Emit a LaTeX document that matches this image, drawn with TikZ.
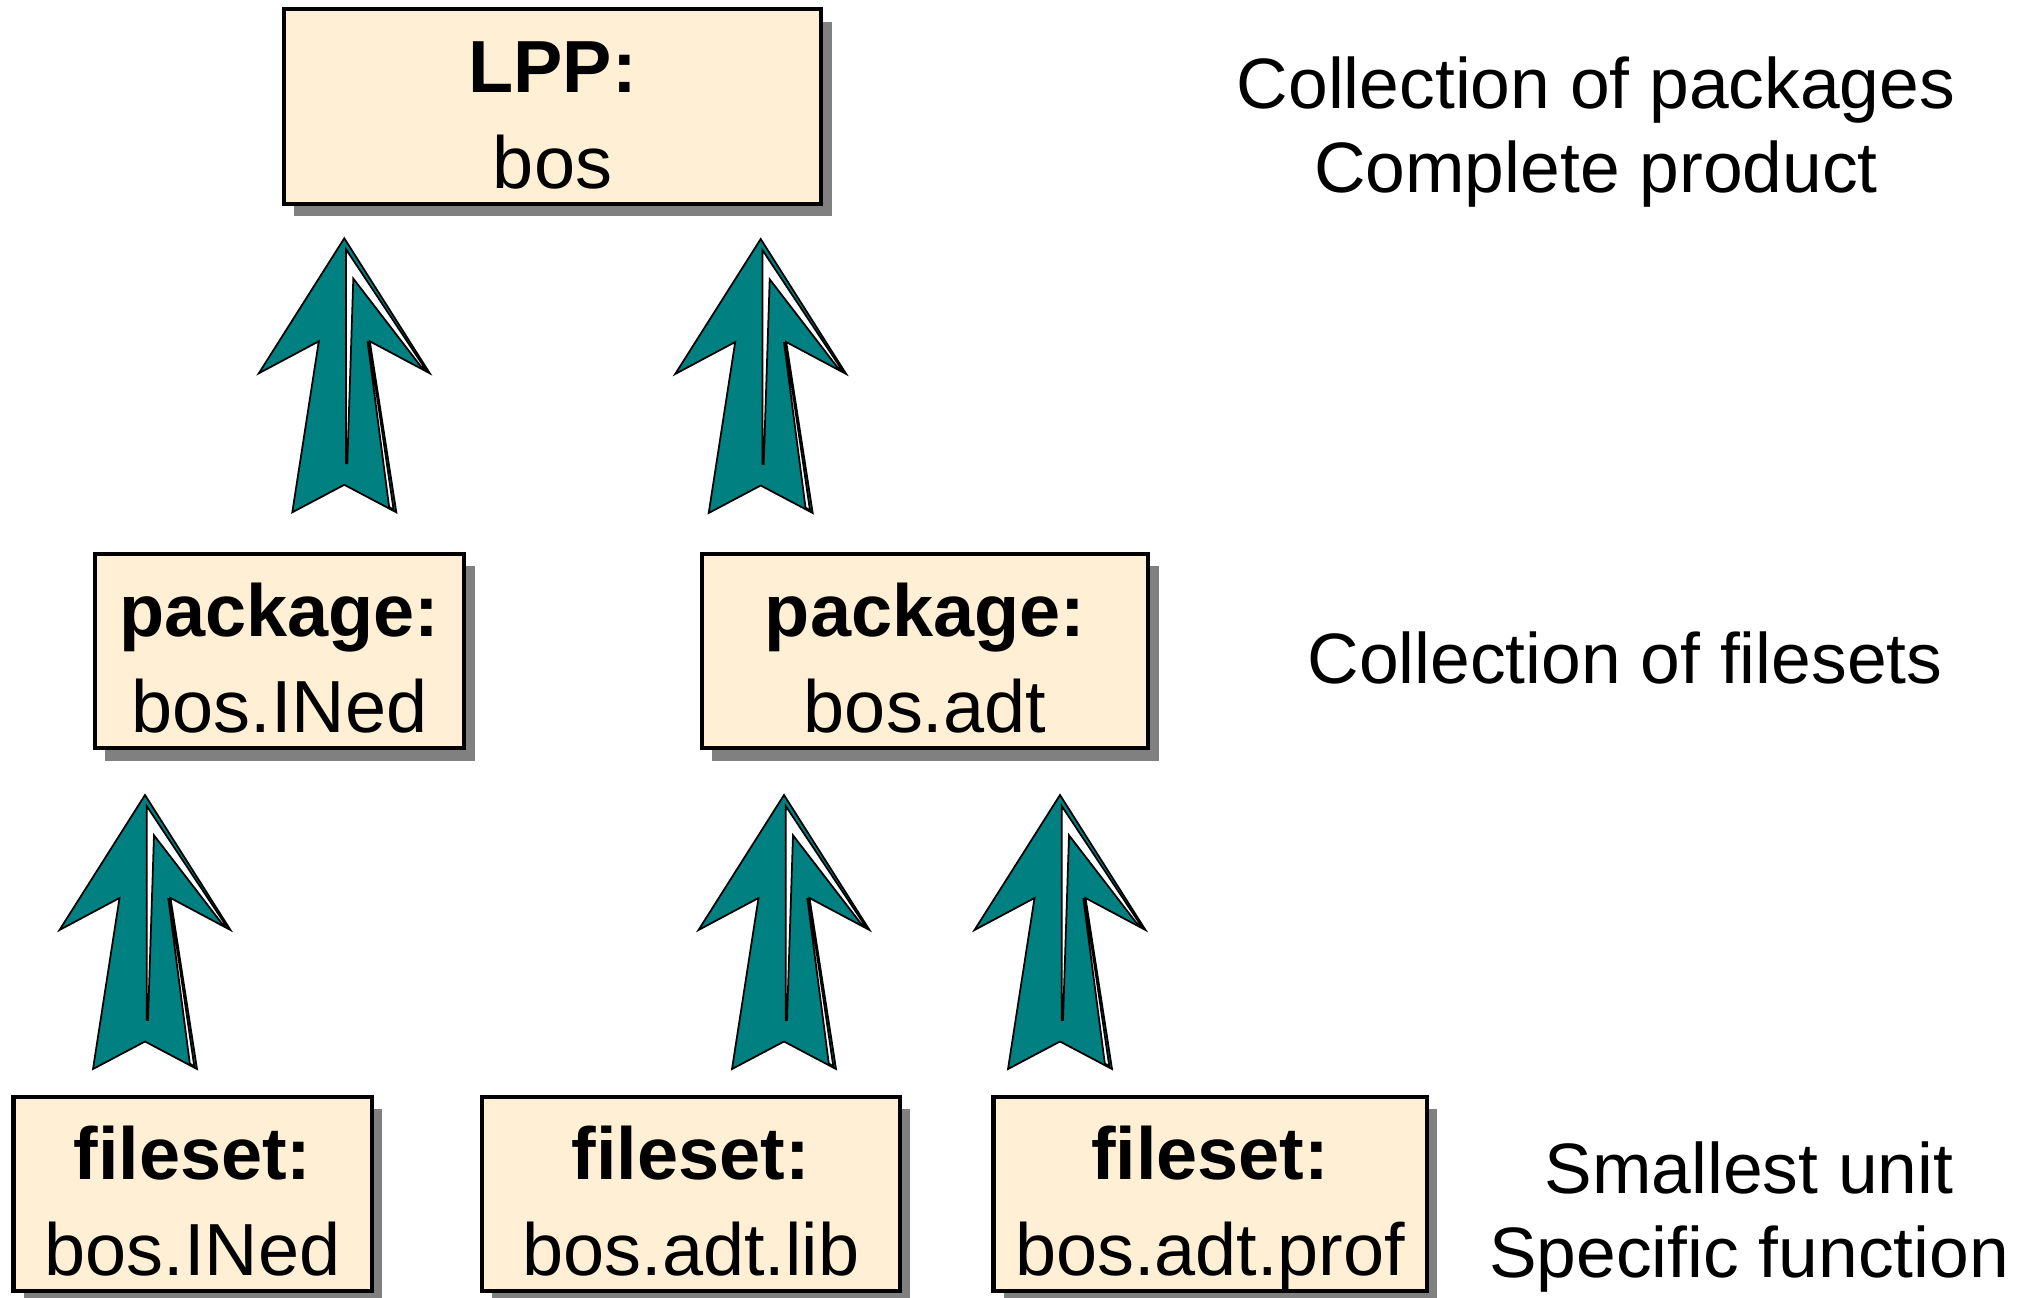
\documentclass[tikz,border=0pt]{standalone}
\usepackage{fontspec}
\setmainfont{Liberation Sans}
\usetikzlibrary{shadows}

\definecolor{boxfill}{RGB}{255,239,213}
\definecolor{arrowteal}{RGB}{0,128,128}
\definecolor{shadowgray}{RGB}{128,128,128}

\tikzset{
	unitbox/.style={draw,line width=1.2pt,fill=boxfill,align=center,inner sep=0pt,
		minimum height=1.94cm,
		drop shadow={shadow xshift=3pt,shadow yshift=-3.5pt,fill=shadowgray,opacity=1},
		font=\fontsize{21}{27.3}\selectfont},
	remark/.style={align=center,font=\fontsize{20.3}{23.9}\selectfont},
	uparrow/.pic={
		% back of the arrow
		\filldraw[fill=arrowteal,draw=black,line width=0.5pt]
			(0,0) -- (85.5,135) -- (25.5,103) -- (52,274) -- (0,246.5)
			-- (-52,274) -- (-25.5,103) -- (-85.5,135) -- cycle;
		% white slits of the fold
		\filldraw[fill=white,draw=black,line width=0.5pt]
			(1.7,11) -- (81.3,131) -- (76.7,128.3) -- (9,40.3) -- (3,225) -- (1.7,225) -- cycle;
		\filldraw[fill=white,draw=black,line width=0.5pt]
			(23.4,104) -- (24.8,104) -- (49.3,271.5) -- (44.8,268.5) -- cycle;
	}
}
\newcommand{\boxlines}[2]{\rule{0pt}{23.6pt}\textbf{#1}\\#2\rule[-4.4pt]{0pt}{4.4pt}}

\begin{document}
\begin{tikzpicture}[x=0.01cm,y=-0.01cm]
	\useasboundingbox (0,0) rectangle (2022,1297);

	\node[unitbox,minimum width=5.37cm,minimum height=1.91cm] (lpp) at (552.5,106.5) {\boxlines{LPP:}{bos}};
	\node[unitbox,minimum width=3.69cm] (pkgIned) at (279.5,651) {\boxlines{package:}{bos.INed}};
	\node[unitbox,minimum width=4.46cm] (pkgAdt) at (925,651) {\boxlines{package:}{bos.adt}};
	\node[unitbox,minimum width=3.58cm] (fsIned) at (192.5,1194) {\boxlines{fileset:}{bos.INed}};
	\node[unitbox,minimum width=4.18cm] (fsLib) at (690.8,1194) {\boxlines{fileset:}{bos.adt.lib}};
	\node[unitbox,minimum width=4.33cm] (fsProf) at (1210,1194) {\boxlines{fileset:}{bos.adt.prof}};

	\pic (upIned) at (344.3,238.3) {uparrow};
	\pic (upAdt) at (760.7,239) {uparrow};
	\pic (upFsIned) at (145,795) {uparrow};
	\pic (upFsLib) at (784,795) {uparrow};
	\pic (upFsProf) at (1060,795) {uparrow};

	\node[remark] (lppNote) at (1596,132.5) {Collection of packages\\Complete product};
	\node[remark,anchor=base] (pkgNote) at (1625,683) {Collection of filesets};
	\node[remark] (fsNote) at (1749,1217) {Smallest unit\\Specific function};
\end{tikzpicture}
\end{document}
